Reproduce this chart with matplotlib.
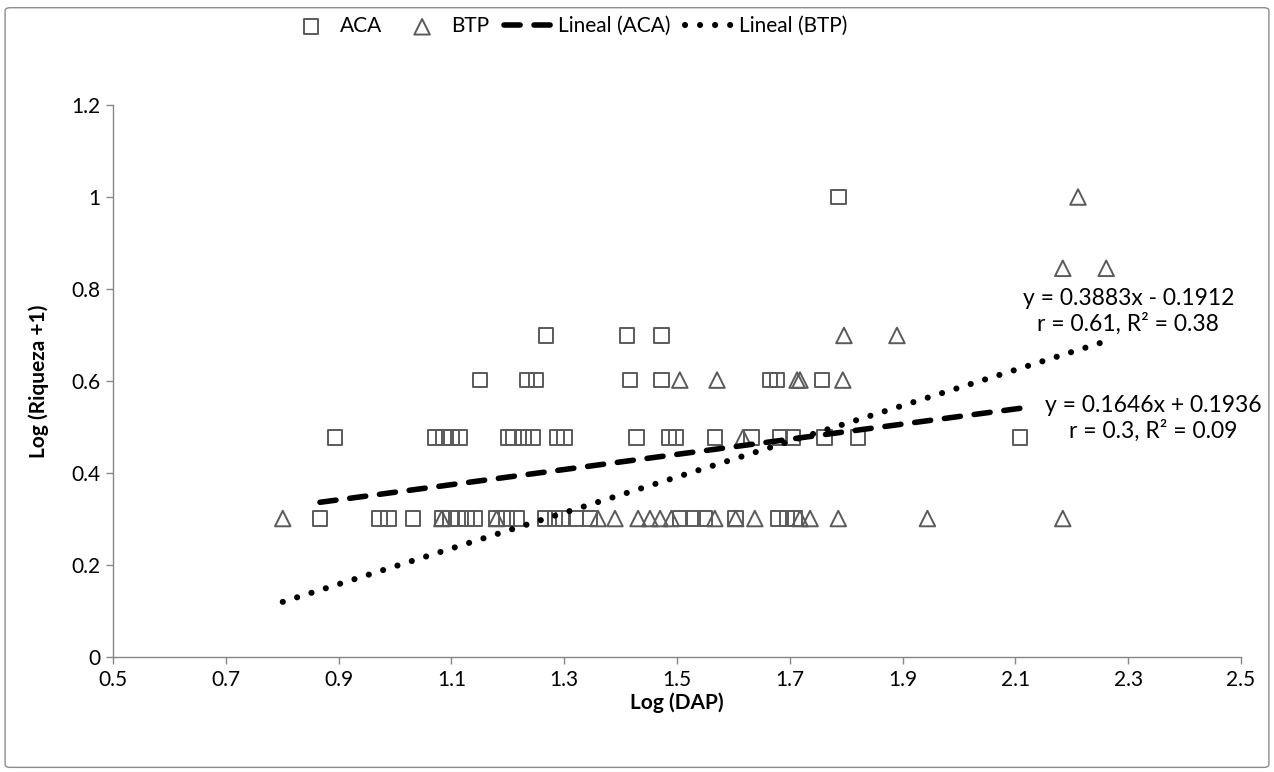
import numpy as np
import matplotlib
matplotlib.use('Agg')
import matplotlib.pyplot as plt
from matplotlib.patches import FancyBboxPatch

plt.rcParams['font.family'] = ['Lato', 'DejaVu Sans']

# ACA (cuadrados): Log(DAP) y Log(Riqueza + 1)
aca_x = [0.867, 0.973, 0.988, 1.032, 1.083, 1.098, 1.112, 1.127, 1.142, 1.180,
         1.198, 1.216, 1.266, 1.284, 1.298, 1.321, 1.346, 1.505, 1.528, 1.550,
         1.604, 1.680, 1.695, 1.709,
         0.894, 1.071, 1.086, 1.100, 1.115, 1.200, 1.210, 1.228, 1.245, 1.287,
         1.301, 1.428, 1.486, 1.498, 1.567, 1.632, 1.683, 1.706, 1.762, 1.821,
         2.108,
         1.151, 1.234, 1.250, 1.417, 1.473, 1.665, 1.677, 1.757,
         1.268, 1.411, 1.473,
         1.786]
aca_y = [0.301] * 24 + [0.477] * 21 + [0.602] * 8 + [0.699] * 3 + [1.0]

# BTP (triangulos)
btp_x = [0.801, 1.083, 1.180, 1.360, 1.390, 1.431, 1.452, 1.470, 1.490, 1.567,
         1.604, 1.638, 1.718, 1.736, 1.786, 1.944, 2.184,
         1.617,
         1.505, 1.571, 1.713, 1.718, 1.794,
         1.796, 1.890,
         2.184, 2.261,
         2.211]
btp_y = [0.301] * 17 + [0.477] + [0.602] * 5 + [0.699] * 2 + [0.845] * 2 + [1.0]

# Lineas de tendencia (ecuaciones del grafico)
aca_fit = (0.1646, 0.1936)
btp_fit = (0.3883, -0.1912)
aca_label = 'y = 0.1646x + 0.1936\nr = 0.3, R² = 0.09'
btp_label = 'y = 0.3883x - 0.1912\nr = 0.61, R² = 0.38'

x_ticks = [0.5, 0.7, 0.9, 1.1, 1.3, 1.5, 1.7, 1.9, 2.1, 2.3, 2.5]
y_ticks = [0, 0.2, 0.4, 0.6, 0.8, 1.0, 1.2]
y_tick_labels = ['0', '0.2', '0.4', '0.6', '0.8', '1', '1.2']

MARKER_COLOR = '#5a5a5a'
AXIS_COLOR = '#868686'

fig = plt.figure(figsize=(12.74, 7.72), dpi=100)
ax = fig.add_axes([113 / 1274, 115 / 772, 1128 / 1274, 552 / 772])

# borde del grafico
fig.patches.append(FancyBboxPatch((0.004, 0.006), 0.992, 0.984, boxstyle='round,pad=0,rounding_size=0.004',
                                  transform=fig.transFigure, fill=False, edgecolor='#8c8c8c', linewidth=1.0))

ax.scatter(aca_x, aca_y, marker='s', s=110, facecolors='none', edgecolors=MARKER_COLOR,
           linewidths=1.4, label='ACA', zorder=3)
ax.scatter(btp_x, btp_y, marker='^', s=125, facecolors='none', edgecolors=MARKER_COLOR,
           linewidths=1.4, label='BTP', zorder=3)

xa = np.array([min(aca_x), max(aca_x)])
xb = np.array([min(btp_x), max(btp_x)])
ax.plot(xa, aca_fit[0] * xa + aca_fit[1], color='black', linewidth=4,
        linestyle=(0, (2.9, 2.5)), dash_capstyle='round', label='Lineal (ACA)', zorder=4)
ax.plot(xb, btp_fit[0] * xb + btp_fit[1], color='black', linewidth=4.4,
        linestyle=(0, (0.01, 2.45)), dash_capstyle='round', label='Lineal (BTP)', zorder=4)

ax.text(2.30, 0.752, btp_label, ha='center', va='center', fontsize=16.5,
        multialignment='center', linespacing=1.2, clip_on=False)
ax.text(2.345, 0.518, aca_label, ha='center', va='center', fontsize=16.5,
        multialignment='center', linespacing=1.2, clip_on=False)

ax.set_xlim(0.5, 2.5)
ax.set_ylim(0, 1.2)
ax.set_xticks(x_ticks)
ax.set_xticklabels([f'{v:.1f}' for v in x_ticks])
ax.set_yticks(y_ticks)
ax.set_yticklabels(y_tick_labels)
ax.tick_params(axis='both', labelsize=15, colors=AXIS_COLOR, labelcolor='black',
               length=5, width=1, direction='out', pad=4)

for side in ['top', 'right']:
    ax.spines[side].set_visible(False)
for side in ['left', 'bottom']:
    ax.spines[side].set_color(AXIS_COLOR)
    ax.spines[side].set_linewidth(1)

ax.set_xlabel('Log (DAP)', fontsize=15, fontweight='bold', labelpad=2)
ax.set_ylabel('Log (Riqueza +1)', fontsize=15, fontweight='bold', labelpad=16)

fig.legend(loc='center', bbox_to_anchor=(0.445, 0.966), ncol=4, frameon=False,
           fontsize=15, handlelength=2.4, columnspacing=0.7, handletextpad=0.2,
           scatterpoints=1)

fig.savefig('out.png', dpi=100)
